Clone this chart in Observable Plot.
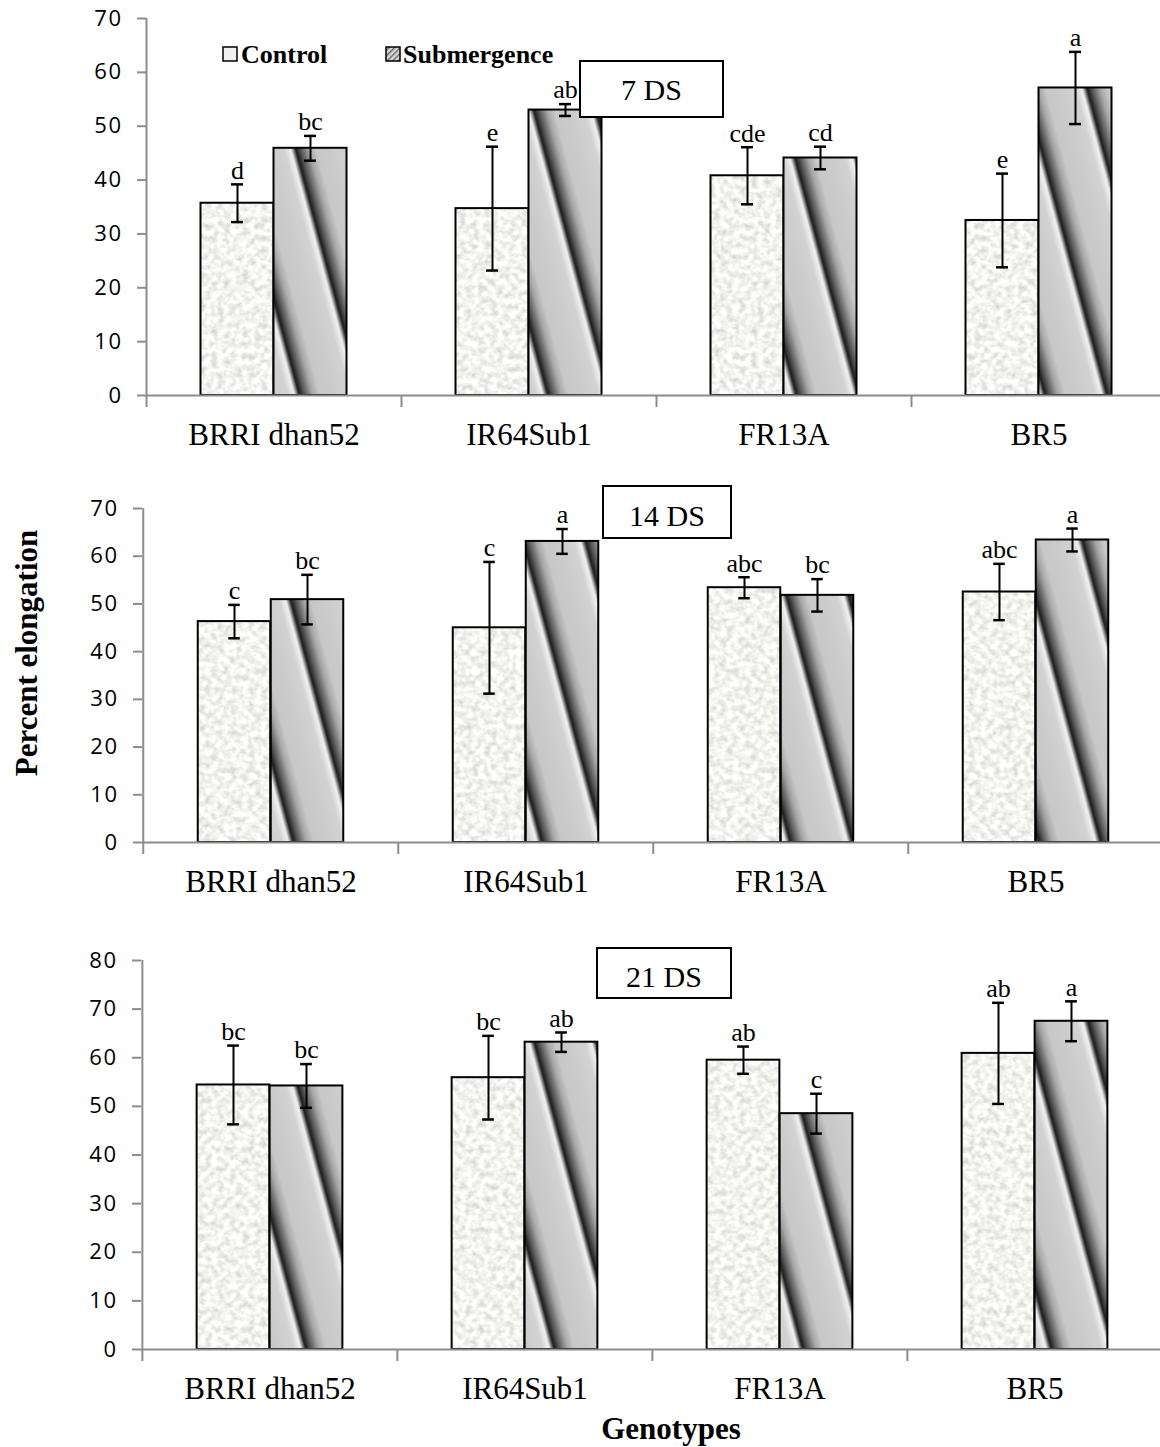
<!DOCTYPE html>
<html>
<head>
<meta charset="utf-8">
<script src="https://cdn.jsdelivr.net/npm/d3@7"></script>
<script src="https://cdn.jsdelivr.net/npm/@observablehq/plot@0.6"></script>
<style>
  body { margin: 0; background: #fff; }
  #wrap { position: relative; width: 1160px; height: 1447px; background: #fff; overflow: hidden; }
  #wrap > svg { position: absolute; left: 0; }
  g[aria-label="y-axis tick label"] text { letter-spacing: 1.5px; }
</style>
</head>
<body>
<div id="wrap"></div>
<script>
// ---------------- data ----------------
const genotypes = ["BRRI dhan52", "IR64Sub1", "FR13A", "BR5"];
const treatments = ["Control", "Submergence"];
const stages = ["7 DS", "14 DS", "21 DS"];

const control7 = [35.7, 34.7, 40.8, 32.5];
const control7Err = [3.5, 11.5, 5.3, 8.7];
const control7Letters = ["d", "e", "cde", "e"];
const sub7 = [45.9, 53.0, 44.1, 57.1];
const sub7Err = [2.3, 1.1, 2.1, 6.7];
const sub7Letters = ["bc", "ab", "cd", "a"];

const control14 = [46.3, 45.0, 53.4, 52.5];
const control14Err = [3.5, 13.8, 2.2, 5.9];
const control14Letters = ["c", "c", "abc", "abc"];
const sub14 = [50.9, 63.1, 51.8, 63.4];
const sub14Err = [5.2, 2.6, 3.4, 2.4];
const sub14Letters = ["bc", "a", "bc", "a"];

const control21 = [54.4, 55.9, 59.5, 60.9];
const control21Err = [8.1, 8.6, 2.8, 10.4];
const control21Letters = ["bc", "bc", "ab", "ab"];
const sub21 = [54.2, 63.2, 48.5, 67.5];
const sub21Err = [4.5, 2.0, 4.1, 4.1];
const sub21Letters = ["bc", "ab", "c", "a"];

const yMaxes = [70, 70, 80];
const yLabel = "Percent elongation";
const xLabel = "Genotypes";

// ---------------- layout ----------------
const layout = [
  {top: 0,   height: 470, y0: 395, yTop: 18, left: 146, right: 1166,
   box: {x: 580, y: 61, w: 143, h: 56, base: 100}},
  {top: 470, height: 460, y0: 372, yTop: 38, left: 142, right: 1164,
   box: {x: 603, y: 486, w: 128, h: 52, base: 526}},
  {top: 930, height: 517, y0: 419, yTop: 30, left: 141, right: 1162,
   box: {x: 597, y: 948, w: 134, h: 50, base: 987}}
];
const series = [
  [control7, control7Err, control7Letters, sub7, sub7Err, sub7Letters],
  [control14, control14Err, control14Letters, sub14, sub14Err, sub14Letters],
  [control21, control21Err, control21Letters, sub21, sub21Err, sub21Letters]
];

const SERIF = "'Liberation Serif', 'Times New Roman', serif";
const SANS = "'Open Sans', Carlito, sans-serif";
const AXIS = "#8c8c8c";
const wrap = document.getElementById("wrap");

function defsFor(i) {
  return `<defs>
  <filter id="noise${i}" x="0" y="0" width="1" height="1" color-interpolation-filters="sRGB">
    <feTurbulence type="fractalNoise" baseFrequency="0.16" numOctaves="3" seed="${5 + i}" stitchTiles="stitch"/>
    <feColorMatrix type="matrix" values="0.34 0 0 0 0.78  0.34 0 0 0 0.78  0.34 0 0 0 0.77  0 0 0 0 1"/>
  </filter>
  <pattern id="speck${i}" patternUnits="userSpaceOnUse" width="180" height="180">
    <rect width="180" height="180" fill="#efefed" filter="url(#noise${i})"/>
  </pattern>
  <linearGradient id="sg${i}" x1="0" x2="1" y1="0" y2="0">
    <stop offset="0" stop-color="#c9c9c9"/>
    <stop offset="0.34" stop-color="#d2d2d2"/>
    <stop offset="0.45" stop-color="#f2f2f2"/>
    <stop offset="0.53" stop-color="#1a1a1a"/>
    <stop offset="0.61" stop-color="#565656"/>
    <stop offset="0.74" stop-color="#a6a6a6"/>
    <stop offset="0.86" stop-color="#c8c8c8"/>
    <stop offset="1" stop-color="#c9c9c9"/>
  </linearGradient>
  <pattern id="stripe${i}" patternUnits="userSpaceOnUse" width="60" height="600" patternTransform="rotate(-15)">
    <rect width="60" height="600" fill="url(#sg${i})"/>
  </pattern>
</defs>`;
}

layout.forEach((L, i) => {
  const [c, ce, cl, s, se, sl] = series[i];
  const ctrlRows = genotypes.map((g, j) => ({g, t: treatments[0], v: c[j], e: ce[j], s: cl[j]}));
  const subRows = genotypes.map((g, j) => ({g, t: treatments[1], v: s[j], e: se[j], s: sl[j]}));
  const bw = (L.right - L.left) / genotypes.length;
  const BAR = 73, off = BAR / 2, inset = (bw - BAR) / 2, capInset = (bw - 12) / 2;
  const yMax = yMaxes[i];

  const seriesMarks = (rows, dx, fill) => [
    Plot.barY(rows, {x: "g", y: "v", dx, insetLeft: inset, insetRight: inset,
      fill, stroke: "black", strokeWidth: 2}),
    Plot.ruleX(rows, {x: "g", y1: d => d.v - d.e, y2: d => d.v + d.e, dx, stroke: "black", strokeWidth: 2}),
    Plot.tickY(rows, {x: "g", y: d => d.v + d.e, dx, insetLeft: capInset, insetRight: capInset, stroke: "black", strokeWidth: 2.5}),
    Plot.tickY(rows, {x: "g", y: d => d.v - d.e, dx, insetLeft: capInset, insetRight: capInset, stroke: "black", strokeWidth: 2.5}),
    Plot.text(rows, {x: "g", y: d => d.v + d.e, text: "s", dx, dy: -14,
      fontSize: 26, fontFamily: SERIF, fill: "black"})
  ];

  const plot = Plot.plot({
    width: 1160,
    height: L.height,
    marginLeft: L.left, marginRight: 0, marginTop: L.yTop, marginBottom: L.height - L.y0,
    x: {domain: genotypes, range: [L.left, L.right], padding: 0},
    y: {domain: [0, yMax], range: [L.y0, L.yTop]},
    style: {background: "transparent", overflow: "visible"},
    marks: [
      ...seriesMarks(ctrlRows, -off, `url(#speck${i})`),
      ...seriesMarks(subRows, off, `url(#stripe${i})`),
      Plot.ruleY([0], {stroke: AXIS, strokeWidth: 2}),
      Plot.ruleX([genotypes[0]], {dx: -bw / 2, y1: 0, y2: yMax, stroke: AXIS, strokeWidth: 2}),
      Plot.ruleX(genotypes, {dx: -bw / 2, y1: 0, y2: 0, insetBottom: -12, stroke: AXIS, strokeWidth: 2}),
      Plot.axisY({ticks: d3.range(0, yMax + 1, 10), tickSize: 9, tickPadding: 15,
        stroke: AXIS, strokeWidth: 2, fill: "black", fontSize: 22, fontFamily: SANS, label: null}),
      Plot.axisX({tickSize: 0, tickPadding: 27, fill: "black", fontSize: 31, fontFamily: SERIF, label: null})
    ]
  });
  plot.insertAdjacentHTML("afterbegin", defsFor(i));
  plot.style.top = L.top + "px";
  wrap.appendChild(plot);
});

// ---------------- overlay: legend, stage boxes, axis titles ----------------
const ov = d3.select(wrap).append("svg")
  .attr("width", 1160).attr("height", 1447)
  .style("top", "0px").style("pointer-events", "none");
ov.append("defs").html(`
  <pattern id="hatch" patternUnits="userSpaceOnUse" width="4" height="4" patternTransform="rotate(45)">
    <rect width="4" height="4" fill="#d8d8d8"/>
    <rect width="1.4" height="4" fill="#666"/>
  </pattern>`);

// legend
ov.append("rect").attr("x", 223).attr("y", 47).attr("width", 14).attr("height", 14)
  .attr("fill", "#efefed").attr("stroke", "black").attr("stroke-width", 1.5);
ov.append("text").attr("x", 241).attr("y", 63).text(treatments[0])
  .attr("font-family", SERIF).attr("font-weight", "bold").attr("font-size", 26);
ov.append("rect").attr("x", 386).attr("y", 47).attr("width", 14).attr("height", 14)
  .attr("fill", "url(#hatch)").attr("stroke", "black").attr("stroke-width", 1.5);
ov.append("text").attr("x", 403).attr("y", 63).text(treatments[1])
  .attr("font-family", SERIF).attr("font-weight", "bold").attr("font-size", 26);

// stage boxes
layout.forEach((L, i) => {
  const b = L.box;
  ov.append("rect").attr("x", b.x).attr("y", b.y).attr("width", b.w).attr("height", b.h)
    .attr("fill", "white").attr("stroke", "black").attr("stroke-width", 2);
  ov.append("text").attr("x", b.x + b.w / 2).attr("y", b.base).attr("text-anchor", "middle")
    .attr("font-family", SERIF).attr("font-size", 30).text(stages[i]);
});

// axis titles
ov.append("text").attr("transform", "translate(37,653) rotate(-90)").attr("text-anchor", "middle")
  .attr("font-family", SERIF).attr("font-weight", "bold").attr("font-size", 31).text(yLabel);
ov.append("text").attr("x", 671).attr("y", 1439).attr("text-anchor", "middle")
  .attr("font-family", SERIF).attr("font-weight", "bold").attr("font-size", 31).text(xLabel);
</script>
</body>
</html>
